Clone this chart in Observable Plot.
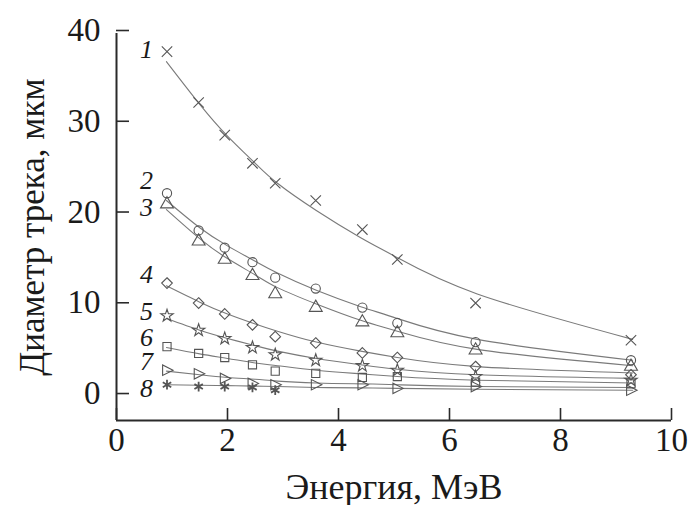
<!DOCTYPE html>
<html><head><meta charset="utf-8">
<script src="https://cdn.jsdelivr.net/npm/d3@7"></script>
<script src="https://cdn.jsdelivr.net/npm/@observablehq/plot@0.6"></script>
<style>body{margin:0;background:#fff} #chart svg{display:block}</style>
</head><body><div id="chart"></div>
<script>
// Measurement energies (MeV)
const energy = [0.91, 1.48, 1.95, 2.45, 2.86, 3.59, 4.43, 5.06, 6.47, 9.27];
// Measured track diameters (μm)
const d1 = [38.0, 32.4, 28.8, 25.7, 23.5, 21.6, 18.4, 15.1, 10.3, 6.2];
const d2 = [22.4, 18.3, 16.4, 14.8, 13.1, 11.9, 9.8, 8.1, 6.0, 4.0];
const d3 = [21.2, 17.1, 15.1, 13.3, 11.3, 9.8, 8.2, 7.0, 5.1, 3.3];
const d4 = [12.5, 10.3, 9.1, 7.9, 6.6, 5.9, 4.8, 4.3, 3.3, 2.4];
const d5 = [8.9, 7.3, 6.4, 5.4, 4.6, 4.0, 3.4, 2.9, 2.2, 1.8];
const d6 = [5.5, 4.75, 4.3, 3.5, 2.8, 2.55, 2.1, 2.2, 1.6, 1.4];
const d7 = [2.9, 2.5, 2.0, 1.45, 1.3, 1.3, 1.3, 0.9, 1.1, 0.7];
const d8 = [1.3, 1.1, 1.1, 1.0, 0.7];
// Fitted curves
const fitX = [0.9, 1.5, 2.0, 2.5, 2.9, 3.6, 4.4, 5.06, 6.5, 9.3];
const f1 = [36.9, 32.2, 28.7, 25.7, 23.5, 20.5, 17.5, 15.3, 11.3, 6.3];
const f2 = [21.6, 18.6, 16.6, 14.9, 13.6, 11.7, 9.9, 8.6, 6.3, 4.0];
const f3 = [20.6, 17.4, 15.2, 13.4, 12.0, 10.2, 8.4, 7.2, 5.2, 3.4];
const f4 = [12.2, 10.4, 9.1, 8.0, 7.2, 6.0, 5.0, 4.3, 3.3, 2.6];
const f5 = [8.6, 7.3, 6.4, 5.6, 5.0, 4.2, 3.5, 3.0, 2.4, 2.0];
const f6 = [5.4, 4.7, 4.2, 3.7, 3.4, 2.9, 2.5, 2.2, 1.8, 1.5];
const f7 = [2.8, 2.4, 2.1, 1.9, 1.7, 1.5, 1.4, 1.3, 1.1, 1.0];
const f8 = [1.3, 1.25, 1.2, 1.15, 1.1, 1.0, 0.95, 0.9, 0.8, 0.7];
// Curve labels
const curveLabels = ["1", "2", "3", "4", "5", "6", "7", "8"];
const labelY = [38.2, 23.8, 20.8, 13.4, 9.4, 6.5, 3.8, 0.9];
// Axis ticks
const xTicks = [0, 2, 4, 6, 8, 10];
const yTicks = [0, 10, 20, 30, 40];
const yMin = -2.64;

const triRight = {
  draw(ctx, size) {
    const r = Math.sqrt(size / 2.2);
    ctx.moveTo(r * 1.1, 0);
    ctx.lineTo(-r * 0.8, -r * 0.95);
    ctx.lineTo(-r * 0.8, r * 0.95);
    ctx.closePath();
  }
};
const symbols = ["times", "circle", "triangle", "diamond2", "star", "square", triRight, "asterisk"];
const sizes = [4.8, 4.6, 4.8, 4.8, 3.9, 4.6, 4.6, 4.6];
const dataSets = [d1, d2, d3, d4, d5, d6, d7, d8];
const fitSets = [f1, f2, f3, f4, f5, f6, f7, f8];

const marks = [
  Plot.ruleX([0], {stroke: "#2a2a2a", strokeWidth: 2}),
  Plot.ruleY([yMin], {stroke: "#2a2a2a", strokeWidth: 2}),
  Plot.axisX({ticks: xTicks, tickSize: -12, tickPadding: 19, stroke: "#2a2a2a", strokeWidth: 1.6, fontSize: 33,
    label: null}),
  Plot.axisX({ticks: [], label: "Энергия, МэВ", labelAnchor: "center", labelOffset: 78, labelArrow: "none", fontSize: 36}),
  Plot.axisY({ticks: yTicks, tickSize: -13, tickPadding: 29, stroke: "#2a2a2a", strokeWidth: 1.6, fontSize: 33, dy: -3,
    label: null}),
  Plot.axisY({ticks: [], label: "Диаметр трека, мкм", labelAnchor: "center", labelOffset: 97, labelArrow: "none", fontSize: 35})
];
fitSets.forEach((f) => {
  marks.push(Plot.line(f.map((v, i) => ({x: fitX[i], y: v})), {x: "x", y: "y", curve: "natural", stroke: "#7a7a7a", strokeWidth: 1.1}));
});
dataSets.forEach((d, k) => {
  marks.push(Plot.dot(d.map((v, i) => ({x: energy[i], y: v})), {x: "x", y: "y", symbol: symbols[k], r: sizes[k], stroke: "#555", strokeWidth: k === 7 ? 1.8 : 1.1, fill: "none"}));
});
marks.push(Plot.text(curveLabels.map((t, i) => ({t, y: labelY[i], x: energy[0]})), {
  x: "x", y: "y", text: "t", dx: -14, textAnchor: "end", fontStyle: "italic", fontSize: 26, fill: "#1a1a1a"
}));

const chart = Plot.plot({
  width: 692, height: 505,
  marginLeft: 116, marginRight: 21, marginTop: 33, marginBottom: 85,
  x: {domain: [0, 10]},
  y: {domain: [yMin, 40]},
  style: {fontFamily: "'Liberation Serif', 'Times New Roman', serif", fontSize: "33px", color: "#1a1a1a", background: "white"},
  marks
});
document.getElementById("chart").appendChild(chart);
</script>
</body></html>
